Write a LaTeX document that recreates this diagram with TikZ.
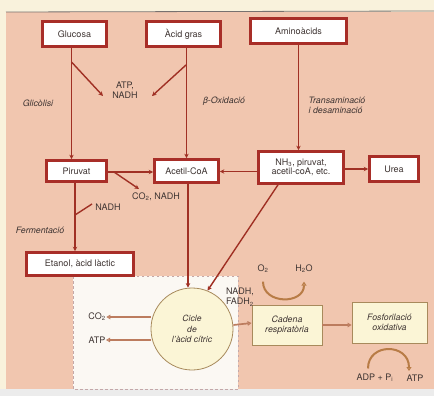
\documentclass[tikz,border=0pt]{standalone}
\usepackage{fontspec}
\setmainfont{TeX Gyre Heros}
\usetikzlibrary{arrows.meta,calc}
\definecolor{peach}{RGB}{241,198,175}
\definecolor{cream}{RGB}{249,242,220}
\definecolor{boxred}{RGB}{168,46,40}
\definecolor{linered}{RGB}{160,48,36}
\definecolor{ink}{RGB}{62,52,50}
\definecolor{zonefill}{RGB}{251,248,243}
\definecolor{zonedash}{RGB}{196,168,168}
\definecolor{paleyellow}{RGB}{251,245,214}
\definecolor{olive}{RGB}{168,138,92}
\definecolor{flow}{RGB}{188,124,94}
\definecolor{arcbrown}{RGB}{184,124,70}
\begin{document}
\begin{tikzpicture}[x=1pt,y=-1pt,
  font=\fontsize{9}{10.4}\selectfont, text=ink,
  box/.style={draw=boxred, line width=2.6pt, fill=white, inner sep=1pt, align=center},
  ybox/.style={draw=olive, line width=0.8pt, fill=paleyellow, inner sep=1pt, align=center, font=\fontsize{8.8}{10.4}\selectfont\itshape},
  arr/.style={draw=linered, line width=1.4pt, -{Stealth[length=4.5pt,width=4.5pt]}},
  plain/.style={draw=linered, line width=1.4pt},
  flowarr/.style={draw=flow, line width=1.7pt, -{Triangle[open,length=4pt,width=4.5pt]}},
  cyc/.style={draw=arcbrown, line width=2pt, -{Triangle[open,length=4pt,width=5pt]}},
  lbl/.style={inner sep=0.5pt, align=center},
  ital/.style={inner sep=0.5pt, font=\fontsize{8.8}{10.4}\selectfont\itshape}]

% page and paper
\useasboundingbox (0,0) rectangle (434,396);
\fill[cream] (0,0) rectangle (434,396);
\fill[peach] (6,12) rectangle (434,389);
\draw[ink!70, line width=0.8pt] (6,12) -- (434,11);
\fill[white!85!gray] (0,389) rectangle (434,396);

% aerobic zone
\draw[zonedash, fill=zonefill, dash pattern=on 2.5pt off 2.5pt, line width=0.9pt]
  (73,276) rectangle (238,389);

% nutrients
\node[box, minimum width=64pt, minimum height=25pt] (glu) at (74.5,34) {Glucosa};
\node[box, minimum width=74pt, minimum height=25pt] (ag) at (183.5,34) {Àcid gras};
\node[box, minimum width=96pt, minimum height=25pt] (ami) at (298.5,31) {Aminoàcids};

% intermediates
\node[box, minimum width=60pt, minimum height=21pt] (pir) at (76.5,171) {Piruvat};
\node[box, minimum width=64pt, minimum height=23pt] (acoa) at (186.5,171) {Acetil-CoA};
\node[box, minimum width=85pt, minimum height=32pt, font=\fontsize{9}{9.6}\selectfont] (nh) at (301,167.5) {NH\textsubscript{3}, piruvat,\\acetil-coA, etc.};
\node[box, minimum width=49pt, minimum height=25pt] (urea) at (394,169) {Urea};
\node[box, minimum width=107pt, minimum height=23pt] (etl) at (80,264) {Etanol, àcid làctic};

% citric acid cycle and respiration
\node[circle, draw=olive, line width=0.8pt, fill=paleyellow, minimum size=82pt, inner sep=0pt, align=center,
  font=\fontsize{8.6}{10.4}\selectfont\itshape] (tca) at (192,329) {Cicle\\de\\l'àcid cítric};
\node[ybox, minimum width=70pt, minimum height=40pt] (cad) at (287,325) {Cadena\\respiratòria};
\node[ybox, minimum width=75pt, minimum height=41pt] (fos) at (389.5,322.5) {Fosforilació\\oxidativa};

% labels
\node[lbl] (atpn) at (125,90) {ATP,\\NADH};
\node[ital] (glic) at (38,103) {Glicòlisi};
\node[ital] (boxi) at (224,101) {β-Oxidació};
\node[ital, align=left, anchor=west] (trans) at (308,105.5) {Transaminació\\i desaminació};
\node[lbl] (co2n) at (156,197) {CO\textsubscript{2}, NADH};
\node[lbl] (nadhf) at (108,207) {NADH};
\node[ital] (ferm) at (40,230) {Fermentació};
\node[lbl] (co2) at (97,317) {CO\textsubscript{2}};
\node[lbl] (atp1) at (97,340) {ATP};
\node[lbl, align=left] (nf) at (240,297) {NADH,\\FADH\textsubscript{2}};
\node[lbl] (o2) at (263,269) {O\textsubscript{2}};
\node[lbl] (h2o) at (304,269) {H\textsubscript{2}O};
\node[lbl] (adp) at (375,378) {ADP + P\textsubscript{i}};
\node[lbl] (atp2) at (415,378) {ATP};

% branch points on the connectors
\coordinate (g1) at (71.5,62);
\coordinate (g2) at (103,96);
\coordinate (a1) at (186,65);
\coordinate (a2) at (152,96);
\coordinate (p1) at (114,172);
\coordinate (p2) at (139,189);
\coordinate (f1) at (75,215);
\coordinate (f2) at (92,204);

% nutrient pathways
\draw[arr] ([xshift=-3pt]glu.south) -- ([xshift=-3pt]glu.south |- pir.north);
\draw[arr] (g1) -- (g2);
\draw[arr] (acoa.north |- ag.south) -- (acoa.north);
\draw[arr] (a1) -- (a2);
\draw[arr] (ami.south) -- (ami.south |- nh.north);

\draw[arr] (pir.east |- p1) -- (acoa.west |- p1);
\draw[arr] (p1) -- (p2);
\draw[arr] ([xshift=-1.5pt]pir.south) -- ([xshift=-1.5pt]pir.south |- etl.north);
\draw[plain] (f1) -- (f2);

\draw[arr] ([yshift=-4pt]nh.west) -- ([yshift=-4pt]nh.west -| acoa.east);
\draw[arr] ([yshift=-1.5pt]nh.east) -- ([yshift=-1.5pt]nh.east -| urea.west);

\draw[arr] ([xshift=1.5pt]acoa.south) -- ([xshift=1.5pt]acoa.south |- tca.north);
\draw[arr] ([xshift=-23pt]nh.south) -- (tca.68);

% products and respiration
\draw[flowarr] (tca.west |- co2) -- (co2.east);
\draw[flowarr] (tca.west |- atp1) -- (atp1.east);
\draw[flowarr] (tca.east |- cad.west) -- ([yshift=2pt]cad.west);
\draw[flowarr] (cad.east) -- (cad.east -| fos.west);

\draw[cyc] ([yshift=-8pt]o2.south) .. controls ([yshift=-31pt]o2.south) and ([yshift=-31pt]h2o.south) .. ([yshift=-8pt]h2o.south);
\draw[cyc] ([xshift=-7pt,yshift=5pt]adp.north) .. controls ([xshift=-7pt,yshift=31pt]adp.north) and ([xshift=-6pt,yshift=31pt]atp2.north) .. ([xshift=-6pt,yshift=3pt]atp2.north);
\end{tikzpicture}
\end{document}
